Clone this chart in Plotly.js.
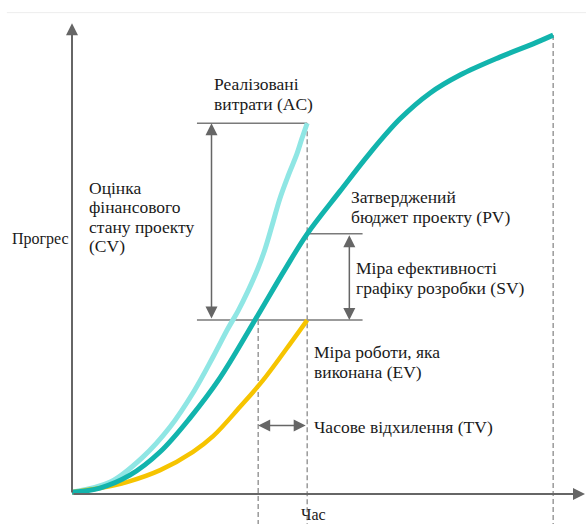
<!DOCTYPE html>
<html>
<head>
<meta charset="utf-8">
<script src="https://cdn.plot.ly/plotly-3.0.1.min.js"></script>
<style>
  html, body { margin: 0; padding: 0; background: #fff; }
  #chart { width: 586px; height: 524px; }
</style>
</head>
<body>
<div id="chart"></div>
<script>
// Planned value (PV): approved budget curve, time vs cumulative progress
const pvTime     = [0, 5.7, 11.8, 18.0, 24.1, 30.2, 37.35, 43.5, 48, 54.7, 60.8, 66.9, 73.1, 79.2, 87.3, 94.1, 98.2];
const pvProgress = [0.4, 1.3, 4.1, 9.2, 16.6, 25.3, 37.9, 49.0, 56.7, 66.0, 74.3, 81.7, 87.4, 91.3, 95.2, 98.1, 100];

// Actual cost (AC) up to the status date
const acTime     = [0, 7.8, 14.5, 20, 24.9, 28.8, 31.8, 33.9, 35.9, 38.0, 39.4, 40.8, 42.4, 44.1, 45.9, 46.9, 48];
const acProgress = [0.4, 2.6, 8.1, 14.6, 22.4, 29.9, 36.0, 39.9, 44.2, 49.3, 53.4, 58.4, 64.3, 69.3, 74.1, 77.4, 80.8];

// Earned value (EV) up to the status date
const evTime     = [0, 5.7, 11.2, 18.0, 24.7, 28.8, 34.3, 39.0, 45.1, 48];
const evProgress = [0.4, 1.3, 2.6, 5.2, 9.2, 12.6, 19.0, 24.8, 33.6, 37.9];

// Key moments on the time axis
const statusDate = acTime[acTime.length - 1];   // reporting date
const planMatchDate = 38;                      // when the plan reached today's earned value
const plannedFinish = pvTime[pvTime.length - 1];

// Levels at the status date
const acLevel = acProgress[acProgress.length - 1];
const evLevel = evProgress[evProgress.length - 1];
const pvLevel = pvProgress[pvTime.indexOf(statusDate)];

const axisGrey = '#666666';
const guideGrey = '#7a7a7a';
const dashGrey = '#9a9a9a';
const serif = 'Liberation Serif';
const ink = '#1a1a1a';
const labelSize = 17.5;
const lineStep = 4.25;   // vertical distance between label lines, in progress units

const traces = [
  { x: acTime, y: acProgress, mode: 'lines', line: { color: '#8fe6e4', width: 5, shape: 'spline', smoothing: 1 }, hoverinfo: 'skip' },
  { x: evTime, y: evProgress, mode: 'lines', line: { color: '#f6c400', width: 4.5, shape: 'spline', smoothing: 1 }, hoverinfo: 'skip' },
  { x: pvTime, y: pvProgress, mode: 'lines', line: { color: '#12b4ad', width: 5, shape: 'spline', smoothing: 1 }, hoverinfo: 'skip' }
];

function hLine(x0, x1, y, color, width, dash) {
  return { type: 'line', xref: 'x', yref: 'y', x0: x0, x1: x1, y0: y, y1: y, layer: 'below',
           line: { color: color, width: width, dash: dash || 'solid' } };
}
function vLine(x, y0, y1, color, width, dash) {
  return { type: 'line', xref: 'x', yref: 'y', x0: x, x1: x, y0: y0, y1: y1, layer: 'below',
           line: { color: color, width: width, dash: dash || 'solid' } };
}

const yBottom = -6.6;
const shapes = [
  hLine(-13.3, 104.9, 104.9, '#ededed', 1),
  // reference levels
  hLine(25.5, statusDate, acLevel, guideGrey, 1.5),
  hLine(25.5, 59.3, evLevel, guideGrey, 1.5),
  hLine(statusDate, 59.3, pvLevel, guideGrey, 1.5),
  // dashed time markers
  vLine(planMatchDate, evLevel, yBottom, dashGrey, 1.5, '5px,3px'),
  vLine(statusDate, acLevel, yBottom, dashGrey, 1.5, '5px,3px'),
  vLine(plannedFinish, 100, yBottom, dashGrey, 1.5, '5px,3px')
];

function arrow(x, y, ax, ay, opts) {
  return Object.assign({ x: x, y: y, ax: ax, ay: ay, xref: 'x', yref: 'y', axref: 'x', ayref: 'y',
    text: '', showarrow: true, arrowhead: 2, arrowsize: 1.6, arrowwidth: 1.5, arrowcolor: axisGrey }, opts || {});
}
function twoWay(x, y, ax, ay) {
  return arrow(x, y, ax, ay, { arrowside: 'end+start', startarrowhead: 2, startarrowsize: 1.6 });
}
// A left-aligned block of text lines, first line centred at (x, yTop)
function label(x, yTop, lines) {
  return lines.map(function (t, i) {
    return { x: x, y: yTop - i * lineStep, xref: 'x', yref: 'y', text: t, showarrow: false,
             xanchor: 'left', yanchor: 'middle', font: { family: serif, size: labelSize, color: ink } };
  });
}
function axisTitle(x, y, text) {
  return { x: x, y: y, xref: 'x', yref: 'y', text: text, showarrow: false, xanchor: 'center', yanchor: 'middle',
           font: { family: serif, size: 16, color: ink } };
}

const annotations = [
  // axes
  arrow(0, 102.6, 0, 0, { arrowwidth: 2, arrowsize: 1.2 }),
  arrow(104.7, 0, 0, 0, { arrowwidth: 2, arrowsize: 1.2 }),
  // variances
  twoWay(28.47, acLevel, 28.47, evLevel),
  twoWay(56.6, evLevel, 56.6, pvLevel),
  twoWay(planMatchDate, 14.93, statusDate, 14.93),
  axisTitle(-6.5, 55.6, 'Прогрес'),
  axisTitle(49.2, -4.4, 'Час')
].concat(
  label(28.5, 89.3, ['Реалізовані', 'витрати (AC)']),
  label(3.0, 66.7, ['Оцінка', 'фінансового', 'стану проекту', '(CV)']),
  label(56.6, 64.7, ['Затверджений', 'бюджет проекту (PV)']),
  label(57.6, 49.2, ['Міра ефективності', 'графіку розробки (SV)']),
  label(49.0, 30.9, ['Міра роботи, яка', 'виконана (EV)']),
  label(49.0, 14.6, ['Часове відхилення (TV)'])
);

const layout = {
  width: 586, height: 524,
  margin: { l: 0, r: 0, t: 0, b: 0 },
  paper_bgcolor: '#ffffff', plot_bgcolor: '#ffffff',
  showlegend: false,
  font: { family: serif },
  xaxis: { visible: false, range: [-14.694, 104.898], fixedrange: true },
  yaxis: { visible: false, range: [-6.537, 107.65], fixedrange: true },
  shapes: shapes,
  annotations: annotations
};

Plotly.newPlot('chart', traces, layout, { displayModeBar: false, staticPlot: true });
</script>
</body>
</html>
